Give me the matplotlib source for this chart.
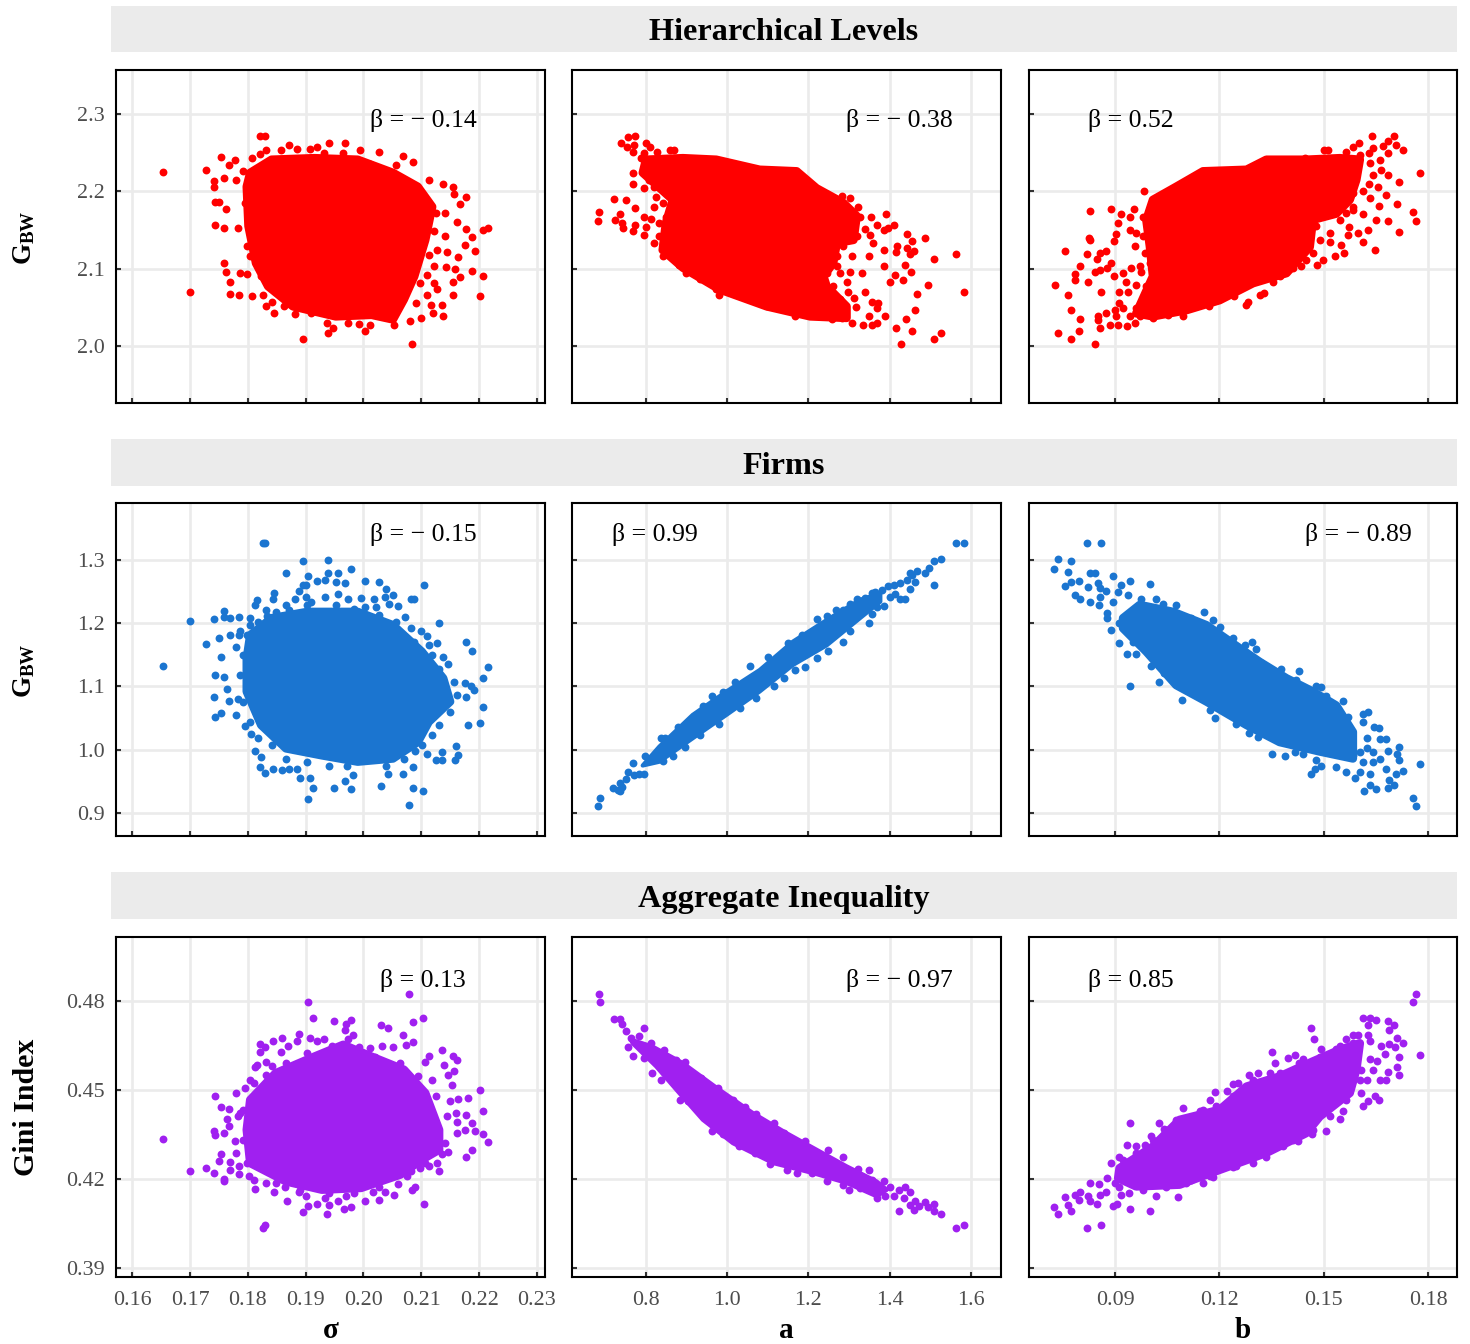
"""Grid of scatter panels: hierarchical levels, firms, aggregate inequality vs sigma, a, b.

Values were read off the picture by eye. The solid middle of each cloud is too dense
to read point by point, so it is kept as an outline (*_core) and the visible
points around it as a list (*_pts).
"""
import matplotlib
matplotlib.use('Agg')
import matplotlib.pyplot as plt

plt.rcParams['font.family'] = ['Liberation Serif', 'DejaVu Serif']
plt.rcParams['mathtext.fontset'] = 'custom'
plt.rcParams['mathtext.bf'] = 'Liberation Serif:bold'
plt.rcParams['mathtext.rm'] = 'Liberation Serif'

W, H = 1470, 1344

row_titles = ['Hierarchical Levels', 'Firms', 'Aggregate Inequality']
row_ylabels = [r'$\mathbf{G_{BW}}$', r'$\mathbf{G_{BW}}$', 'Gini Index']
col_xlabels = ['σ', 'a', 'b']
row_colors = ['#FF0000', '#1B75D0', '#A020F0']

sigma_ticks = [0.16, 0.17, 0.18, 0.19, 0.20, 0.21, 0.22, 0.23]
a_ticks = [0.8, 1.0, 1.2, 1.4, 1.6]
b_ticks = [0.09, 0.12, 0.15, 0.18]
levels_ticks = [2.0, 2.1, 2.2, 2.3]
firms_ticks = [0.9, 1.0, 1.1, 1.2, 1.3]
gini_ticks = [0.39, 0.42, 0.45, 0.48]

betas = [['β = − 0.14', 'β = − 0.38', 'β = 0.52'],
         ['β = − 0.15', 'β = 0.99', 'β = − 0.89'],
         ['β = 0.13', 'β = − 0.97', 'β = 0.85']]

# Hierarchical levels
levels_sigma_core = [(.1804, 2.224), (.1841, 2.241), (.1915, 2.243), (.199, 2.241), (.2051, 2.224), (.2094, 2.206),
                     (.2119, 2.18), (.2107, 2.137), (.2088, 2.09), (.207, 2.06), (.2051, 2.034), (.2014, 2.04),
                     (.1952, 2.038), (.1878, 2.051), (.1835, 2.077), (.1814, 2.107), (.1801, 2.155), (.1798, 2.206)]
levels_sigma_pts = [(.1654, 2.225), (.17, 2.07), (.1727, 2.228), (.1754, 2.244), (.1742, 2.213), (.1741, 2.206),
                    (.1759, 2.217), (.1767, 2.234), (.1778, 2.24), (.1744, 2.186), (.1751, 2.186), (.1762, 2.177),
                    (.1743, 2.156), (.1759, 2.153), (.1783, 2.152), (.1759, 2.107), (.1762, 2.096), (.177, 2.082),
                    (.1769, 2.067), (.1785, 2.066), (.1786, 2.094), (.1798, 2.093), (.1807, 2.064), (.1831, 2.051),
                    (.1846, 2.042), (.1881, 2.041), (.1896, 2.009), (.1938, 2.016), (.1937, 2.029), (.1948, 2.023),
                    (.1974, 2.029), (.1993, 2.028), (.2003, 2.019), (.2011, 2.027), (.2052, 2.027), (.2081, 2.032),
                    (.2084, 2.003), (.2099, 2.036), (.212, 2.043), (.2138, 2.038), (.2135, 2.053), (.2155, 2.066),
                    (.2202, 2.065), (.2206, 2.09), (.2187, 2.097), (.2167, 2.089), (.2155, 2.083), (.2143, 2.102),
                    (.2159, 2.1), (.2163, 2.115), (.2193, 2.123), (.2175, 2.13), (.2187, 2.141), (.2178, 2.151),
                    (.2207, 2.15), (.2215, 2.153), (.2161, 2.16), (.2178, 2.192), (.2167, 2.183), (.2156, 2.196),
                    (.2155, 2.206), (.2137, 2.209), (.2113, 2.215), (.2085, 2.238), (.2068, 2.246), (.2056, 2.234),
                    (.2027, 2.251), (.2011, 2.235), (.1994, 2.253), (.1968, 2.263), (.1965, 2.249), (.1941, 2.262),
                    (.1931, 2.25), (.192, 2.257), (.1907, 2.255), (.1885, 2.255), (.1871, 2.26), (.1857, 2.254),
                    (.183, 2.271), (.1821, 2.271), (.1831, 2.254), (.1821, 2.248), (.1807, 2.243), (.2125, 2.172),
                    (.2141, 2.172), (.2122, 2.148), (.2141, 2.142), (.2128, 2.124), (.2144, 2.122), (.2113, 2.118),
                    (.2122, 2.103), (.211, 2.092), (.2122, 2.081), (.2128, 2.073), (.211, 2.066), (.2116, 2.053),
                    (.2091, 2.055), (.2098, 2.081), (.1798, 2.129), (.1804, 2.116), (.1823, 2.09), (.1826, 2.066),
                    (.1841, 2.057), (.1863, 2.051), (.1909, 2.042), (.1795, 2.185), (.178, 2.215), (.1792, 2.226)]

levels_a_core = [(.8, 2.241), (.891, 2.243), (.973, 2.241), (1.08, 2.228), (1.171, 2.226), (1.22, 2.204),
                 (1.286, 2.185), (1.319, 2.168), (1.311, 2.137), (1.27, 2.133), (1.261, 2.107), (1.237, 2.09),
                 (1.245, 2.077), (1.294, 2.051), (1.294, 2.036), (1.204, 2.038), (1.097, 2.051), (.981, 2.073),
                 (.891, 2.101), (.841, 2.124), (.849, 2.159), (.866, 2.189), (.792, 2.224)]
levels_a_pts = [(.685, 2.173), (.683, 2.162), (.722, 2.19), (.751, 2.189), (.773, 2.178), (.735, 2.17), (.724, 2.163),
                (.741, 2.159), (.743, 2.152), (.774, 2.157), (.769, 2.148), (.794, 2.167), (.801, 2.154), (.794, 2.143),
                (.812, 2.164), (.769, 2.224), (.768, 2.209), (.794, 2.204), (.738, 2.262), (.756, 2.27), (.774, 2.271),
                (.753, 2.257), (.771, 2.26), (.769, 2.251), (.801, 2.262), (.81, 2.257), (.826, 2.251), (.86, 2.254),
                (.868, 2.254), (.788, 2.243), (.796, 2.25), (.819, 2.18), (.825, 2.193), (.833, 2.159), (.821, 2.133),
                (.841, 2.116), (.882, 2.105), (.981, 2.066), (.952, 2.082), (1.167, 2.038), (1.282, 2.194),
                (1.303, 2.191), (1.323, 2.18), (1.354, 2.167), (1.368, 2.156), (1.391, 2.171), (1.41, 2.157),
                (1.397, 2.152), (1.385, 2.15), (1.442, 2.145), (1.454, 2.136), (1.486, 2.139), (1.418, 2.129),
                (1.416, 2.122), (1.442, 2.126), (1.459, 2.123), (1.449, 2.119), (1.387, 2.124), (1.508, 2.112),
                (1.564, 2.119), (1.386, 2.103), (1.437, 2.104), (1.414, 2.092), (1.453, 2.096), (1.433, 2.085),
                (1.4, 2.083), (1.495, 2.079), (1.468, 2.067), (1.582, 2.07), (1.462, 2.047), (1.439, 2.035),
                (1.415, 2.023), (1.456, 2.019), (1.427, 2.003), (1.509, 2.009), (1.527, 2.016), (1.338, 2.07),
                (1.311, 2.062), (1.316, 2.05), (1.356, 2.057), (1.372, 2.056), (1.368, 2.049), (1.389, 2.039),
                (1.35, 2.039), (1.334, 2.027), (1.356, 2.027), (1.368, 2.029), (1.307, 2.029), (1.282, 2.036),
                (1.257, 2.035), (1.348, 2.116), (1.331, 2.094), (1.307, 2.116), (1.302, 2.096), (1.294, 2.083),
                (1.27, 2.103), (1.298, 2.07), (1.36, 2.133), (1.352, 2.144), (1.34, 2.151),
                (.833, 2.206), (.841, 2.185), (.858, 2.198), (.849, 2.167), (.833, 2.142), (.849, 2.133),
                (.866, 2.146), (.874, 2.12), (.858, 2.118), (.821, 2.206), (.833, 2.219), (.808, 2.215),
                (.899, 2.094), (.932, 2.086), (.973, 2.073), (1.031, 2.064), (1.097, 2.051), (1.146, 2.047),
                (1.245, 2.094), (1.278, 2.094), (1.27, 2.116), (1.286, 2.129), (1.319, 2.142), (1.311, 2.155),
                (1.327, 2.167), (1.261, 2.077), (1.278, 2.06), (1.228, 2.073)]

levels_b_core = [(.1009, 2.189), (.1076, 2.206), (.1153, 2.226), (.1278, 2.228), (.1335, 2.241), (.145, 2.241),
                 (.1546, 2.243), (.1604, 2.241), (.1594, 2.215), (.1575, 2.189), (.1536, 2.171), (.1469, 2.163),
                 (.146, 2.128), (.1393, 2.094), (.1297, 2.081), (.1201, 2.059), (.1105, 2.046), (.1009, 2.038),
                 (.0961, 2.042), (.1009, 2.09), (.1, 2.129), (.099, 2.163)]
levels_b_pts = [(.0727, 2.079), (.0765, 2.066), (.0773, 2.047), (.0735, 2.016), (.0773, 2.009), (.0796, 2.019),
                (.0842, 2.003), (.08, 2.035), (.085, 2.038), (.0852, 2.033), (.0856, 2.023), (.0873, 2.042),
                (.0757, 2.123), (.0785, 2.093), (.0784, 2.085), (.0801, 2.103), (.0823, 2.083), (.0859, 2.07),
                (.0821, 2.119), (.0848, 2.112), (.0856, 2.12), (.0874, 2.123), (.0842, 2.095), (.0856, 2.098),
                (.0877, 2.101), (.0896, 2.091), (.0889, 2.107), (.0827, 2.137), (.0825, 2.14), (.0829, 2.175),
                (.0889, 2.177), (.0917, 2.171), (.091, 2.159), (.0896, 2.136), (.0904, 2.145), (.0955, 2.177),
                (.0942, 2.167), (.0984, 2.2), (.0913, 2.07), (.0937, 2.07), (.0913, 2.055), (.0899, 2.047),
                (.0904, 2.038), (.0885, 2.027), (.0909, 2.027), (.0935, 2.026), (.0957, 2.029), (.0923, 2.094),
                (.0933, 2.083), (.0947, 2.101), (.0976, 2.096), (.0961, 2.079), (.1009, 2.036), (.1052, 2.04),
                (.1096, 2.038), (.1169, 2.052), (.1241, 2.064), (.1278, 2.053), (.1283, 2.057), (.1318, 2.066),
                (.1327, 2.068), (.1354, 2.083), (.1436, 2.103), (.1481, 2.104), (.1498, 2.111), (.1532, 2.116),
                (.1558, 2.12), (.1551, 2.131), (.1517, 2.146), (.157, 2.143), (.1613, 2.134), (.1646, 2.124),
                (.1717, 2.147), (.1765, 2.162), (.1757, 2.173), (.1711, 2.183), (.1686, 2.162), (.1651, 2.163),
                (.1627, 2.15), (.1599, 2.146), (.1573, 2.154), (.1613, 2.17), (.1584, 2.176), (.1658, 2.181),
                (.1679, 2.195), (.1632, 2.191), (.1613, 2.2), (.1655, 2.205), (.1716, 2.212), (.1776, 2.224),
                (.1685, 2.221), (.1629, 2.209), (.1664, 2.228), (.1642, 2.221), (.1639, 2.271), (.1703, 2.271),
                (.1686, 2.265), (.1671, 2.259), (.1708, 2.26), (.1728, 2.254), (.1685, 2.25), (.1642, 2.256),
                (.1601, 2.262), (.1584, 2.257), (.1563, 2.251), (.163, 2.25), (.1661, 2.241), (.1604, 2.247),
                (.1632, 2.237), (.15, 2.254), (.1513, 2.254), (.1447, 2.243),
                (.0981, 2.167), (.0981, 2.142), (.0961, 2.146), (.0942, 2.15), (.0957, 2.129), (.0985, 2.12),
                (.1, 2.107), (.0971, 2.103), (.1014, 2.09), (.099, 2.077), (.1004, 2.068), (.0981, 2.06),
                (.0961, 2.049), (.0942, 2.038), (.0923, 2.049), (.0971, 2.038), (.1028, 2.042), (.1479, 2.155),
                (.1489, 2.137), (.1517, 2.135), (.1469, 2.12), (.145, 2.111), (.1412, 2.101), (.1373, 2.09),
                (.1546, 2.189), (.1584, 2.198), (.1584, 2.18), (.1565, 2.172), (.1546, 2.163), (.1594, 2.228)]

# Firms
firms_sigma_core = [(.1804, 1.181), (.1841, 1.208), (.1903, 1.218), (.199, 1.218), (.2051, 1.197), (.2101, 1.155),
                    (.2138, 1.113), (.215, 1.076), (.2113, 1.044), (.2094, 1.012), (.2051, .986), (.199, .981),
                    (.1928, .991), (.1866, 1.002), (.1823, 1.039), (.1798, 1.092), (.1798, 1.144)]
firms_sigma_pts = [(.1654, 1.132), (.17, 1.204), (.1727, 1.167), (.1741, 1.206), (.175, 1.176), (.1759, 1.219),
                   (.1758, 1.21), (.1769, 1.209), (.1784, 1.21), (.1769, 1.181), (.1784, 1.182), (.1786, 1.188),
                   (.1779, 1.163), (.1754, 1.147), (.1743, 1.118), (.1759, 1.115), (.1764, 1.096), (.1741, 1.084),
                   (.1767, 1.077), (.1783, 1.08), (.1743, 1.052), (.1754, 1.058), (.1779, 1.055), (.1795, 1.037),
                   (.1806, 1.025), (.1812, .998), (.1822, .989), (.1821, .972), (.183, .963), (.1844, .969),
                   (.1859, .968), (.1872, .969), (.1885, .969), (.189, .955), (.1908, .956), (.1913, .94),
                   (.1904, .922), (.1949, .94), (.1968, .951), (.1978, .938), (.1982, .96), (.2031, .943),
                   (.2042, .961), (.2068, .962), (.2086, .939), (.2103, .934), (.2078, .912), (.2085, .973),
                   (.2089, .998), (.2125, .983), (.2136, .983), (.2158, .983), (.2164, .991), (.216, 1.006),
                   (.2135, .997), (.211, .994), (.2202, 1.042), (.218, 1.039), (.2206, 1.068), (.2177, 1.083),
                   (.2192, 1.095), (.2186, 1.101), (.2175, 1.105), (.2207, 1.114), (.2215, 1.131), (.2187, 1.156),
                   (.2178, 1.171), (.2131, 1.2), (.2147, 1.136), (.2138, 1.147), (.2128, 1.168), (.2113, 1.166),
                   (.2099, 1.188), (.211, 1.179), (.2104, 1.261), (.2087, 1.239), (.2082, 1.238), (.2071, 1.21),
                   (.206, 1.227), (.2051, 1.245), (.2039, 1.254), (.2027, 1.265), (.2037, 1.242), (.2045, 1.23),
                   (.2002, 1.266), (.2018, 1.239), (.1996, 1.24), (.2021, 1.226), (.2002, 1.226), (.1978, 1.286),
                   (.1956, 1.279), (.1938, 1.3), (.1939, 1.28), (.1933, 1.268), (.1952, 1.265), (.1968, 1.263),
                   (.1956, 1.246), (.1974, 1.238), (.1896, 1.299), (.1904, 1.275), (.1866, 1.28), (.1826, 1.327),
                   (.183, 1.326), (.192, 1.267), (.1896, 1.261), (.19, 1.26), (.1846, 1.248), (.1843, 1.239),
                   (.1889, 1.251), (.1881, 1.239), (.19, 1.242), (.1909, 1.233), (.1934, 1.242), (.1866, 1.229),
                   (.1816, 1.237), (.1812, 1.228), (.1831, 1.221), (.1834, 1.212), (.1804, 1.209),
                   (.1817, 1.202), (.1848, 1.218), (.1872, 1.221), (.1903, 1.229), (.1952, 1.229), (.1983, 1.223),
                   (.2027, 1.213), (.2057, 1.202), (.2082, 1.192), (.2088, 1.171), (.2119, 1.15), (.2131, 1.128),
                   (.2156, 1.107), (.2162, 1.086), (.215, 1.06), (.2131, 1.039), (.2119, 1.023), (.2101, 1.007),
                   (.207, .986), (.2039, .975), (.2008, .986), (.1971, .975), (.194, .975), (.1903, .981),
                   (.1866, .986), (.1841, 1.007), (.1817, 1.018), (.1804, 1.044), (.1792, 1.076), (.1786, 1.118),
                   (.1792, 1.15), (.1798, 1.181), (.1804, 1.197)]

firms_a_core = [(.792, .975), (.833, 1.005), (.915, 1.055), (.998, 1.092), (1.08, 1.126), (1.162, 1.171),
                (1.245, 1.205), (1.327, 1.237), (1.377, 1.247), (1.377, 1.234), (1.327, 1.208), (1.245, 1.165),
                (1.162, 1.134), (1.08, 1.092), (.998, 1.055), (.915, 1.018), (.833, .981)]
firms_a_pts = [(.683, .911), (.686, .923), (.72, .94), (.73, .937), (.736, .934), (.742, .941), (.737, .947),
               (.751, .954), (.756, .965), (.769, .979), (.771, .96), (.784, .962), (.796, .961), (.798, .99),
               (.837, 1.018), (.848, 1.018), (.843, .982), (.866, .99), (.878, 1.036), (.94, 1.069), (.963, 1.085),
               (.989, 1.092), (1.018, 1.107), (1.055, 1.132), (1.101, 1.147), (1.15, 1.168), (1.183, 1.182),
               (1.22, 1.207), (1.245, 1.212), (1.268, 1.221), (1.286, 1.221), (1.302, 1.23), (1.319, 1.238),
               (1.34, 1.24), (1.356, 1.247), (1.364, 1.25), (1.38, 1.253), (1.397, 1.259), (1.41, 1.261),
               (1.426, 1.263), (1.442, 1.268), (1.451, 1.28), (1.467, 1.282), (1.455, 1.276), (1.463, 1.265),
               (1.449, 1.254), (1.488, 1.279), (1.496, 1.287), (1.508, 1.299), (1.527, 1.301), (1.509, 1.261),
               (1.564, 1.327), (1.582, 1.326), (1.438, 1.239), (1.426, 1.239), (1.414, 1.246), (1.401, 1.242),
               (1.385, 1.227), (1.368, 1.225), (1.356, 1.214), (1.348, 1.2), (1.302, 1.187), (1.286, 1.171),
               (1.247, 1.156), (1.191, 1.131), (1.22, 1.145), (1.167, 1.126), (1.139, 1.114), (1.115, 1.1),
               (1.072, 1.081), (1.031, 1.066), (.981, 1.041), (.932, 1.024), (.895, 1.004)]

firms_b_core = [(.0923, 1.208), (.0971, 1.229), (.1067, 1.218), (.1163, 1.197), (.1239, 1.168), (.1316, 1.139),
                (.1393, 1.113), (.1469, 1.092), (.1536, 1.07), (.1584, 1.028), (.1584, .986), (.1489, .997),
                (.1373, 1.012), (.1278, 1.039), (.1163, 1.076), (.1076, 1.102), (.099, 1.155), (.0923, 1.192)]
firms_b_pts = [(.0726, 1.286), (.0735, 1.301), (.0773, 1.299), (.0765, 1.281), (.082, 1.327), (.0859, 1.326),
               (.0757, 1.259), (.0774, 1.265), (.0798, 1.266), (.0823, 1.258), (.0829, 1.279), (.0842, 1.28),
               (.0784, 1.245), (.0801, 1.239), (.0827, 1.234), (.0851, 1.263), (.0856, 1.255), (.0873, 1.251),
               (.0856, 1.242), (.0853, 1.228), (.0895, 1.275), (.0918, 1.261), (.0943, 1.266), (.1002, 1.262),
               (.0909, 1.25), (.0937, 1.245), (.0894, 1.234), (.0877, 1.216), (.0877, 1.209), (.0889, 1.19),
               (.0911, 1.169), (.0935, 1.152), (.0961, 1.152), (.0943, 1.1), (.1028, 1.107), (.1004, 1.132),
               (.0976, 1.239), (.1019, 1.239), (.1038, 1.231), (.1076, 1.228), (.1118, 1.209), (.1155, 1.217),
               (.1182, 1.205), (.1201, 1.194), (.1239, 1.176), (.1295, 1.171), (.1306, 1.159), (.1273, 1.165),
               (.1316, 1.139), (.1378, 1.128), (.1428, 1.125), (.1421, 1.11), (.1479, 1.101), (.1493, 1.099),
               (.1506, 1.085), (.1556, 1.077), (.157, 1.052), (.1613, 1.057), (.1627, 1.06), (.1613, 1.044),
               (.1645, 1.036), (.1659, 1.035), (.1623, 1.019), (.1661, 1.017), (.168, 1.017), (.1717, 1.005),
               (.1685, .998), (.1711, .994), (.1717, .983), (.1776, .978), (.1728, .967), (.1709, .962), (.168, .97),
               (.1688, .952), (.1702, .945), (.1685, .94), (.1651, .938), (.1632, .944), (.1615, .935), (.1757, .923),
               (.1765, .911), (.1661, .986), (.1642, .981), (.1632, .962), (.1589, .955), (.1604, .965), (.1563, .964),
               (.1536, .972), (.1493, .975), (.1474, .97), (.1462, .961), (.1479, .983), (.1441, .994), (.1417, .997),
               (.139, .99), (.1352, .994), (.1311, 1.02), (.1284, 1.026), (.1249, 1.04), (.1188, 1.05), (.1172, 1.063),
               (.1094, 1.078), (.104, 1.121), (.0952, 1.171), (.0913, 1.2), (.1604, .997), (.1623, 1.002),
               (.1642, .997), (.1584, .991), (.1613, .981)]

# Aggregate inequality
gini_sigma_core = [(.1798, .4366), (.1804, .4467), (.1848, .4557), (.1915, .4613), (.1965, .4653), (.2014, .4613),
                   (.207, .4569), (.2107, .449), (.2131, .4366), (.2131, .4299), (.2101, .4265), (.2064, .4215),
                   (.1996, .417), (.1928, .4164), (.1866, .4192), (.1804, .4254)]
gini_sigma_pts = [(.1654, .4334), (.17, .4228), (.1727, .4236), (.1741, .422), (.1759, .42), (.1759, .4193),
                  (.175, .4262), (.1754, .4285), (.1769, .4258), (.1769, .4229), (.1784, .4217), (.1784, .4243),
                  (.1779, .4289), (.1741, .4361), (.1744, .4349), (.1758, .4355), (.1767, .4378), (.1764, .4404),
                  (.1754, .4442), (.1767, .4436), (.1743, .4479), (.1779, .4489), (.1795, .4508), (.1783, .4411),
                  (.1786, .4422), (.1777, .4327), (.1826, .4035), (.183, .4044), (.1904, .4796), (.2078, .4824),
                  (.1913, .4742), (.1949, .4733), (.1978, .4735), (.197, .4722), (.1968, .4703), (.1982, .4685),
                  (.2031, .472), (.2042, .4709), (.2086, .473), (.2103, .4742), (.2068, .4685), (.2085, .4661),
                  (.2073, .4651), (.2051, .4645), (.2032, .4647), (.2012, .4642), (.1992, .4645), (.1974, .4672),
                  (.1889, .4689), (.1885, .4667), (.1859, .4676), (.1843, .4665), (.1821, .4655), (.183, .4645),
                  (.1821, .4627), (.1857, .463), (.187, .4647), (.1908, .4674), (.1931, .4672), (.192, .4664),
                  (.1931, .4622), (.1832, .4593), (.1816, .4585), (.1812, .4578), (.1832, .4552), (.1804, .4535),
                  (.2136, .4635), (.2113, .4616), (.2107, .4593), (.2155, .4615), (.2162, .46), (.214, .4585),
                  (.2157, .4563), (.2147, .4552), (.2119, .4535), (.2153, .4518), (.2202, .4499), (.218, .4474),
                  (.2164, .4471), (.2149, .4462), (.2206, .4428), (.2177, .4416), (.216, .4422), (.2187, .4388),
                  (.2193, .4362), (.2207, .4351), (.2215, .4326), (.2175, .4366), (.2161, .4357), (.2162, .4394),
                  (.2187, .4297), (.2178, .4274), (.2147, .4293), (.2135, .4285), (.2128, .4254), (.2131, .4228),
                  (.2113, .4243), (.2098, .4238), (.2082, .4226), (.2089, .4173), (.2084, .4162), (.2104, .4115),
                  (.206, .4184), (.2052, .4147), (.2037, .4158), (.2027, .4128), (.2016, .4158), (.2003, .4126),
                  (.1978, .4106), (.197, .4142), (.1956, .4125), (.1967, .4099), (.1937, .4084), (.194, .4112),
                  (.1934, .4136), (.192, .4117), (.1904, .411), (.1896, .409), (.19, .4142), (.1867, .4127),
                  (.1888, .4158), (.1864, .4175), (.1845, .4158), (.1812, .4166), (.1832, .4187), (.1802, .4209),
                  (.1811, .4524), (.1841, .458), (.1866, .4591), (.1903, .4625), (.1946, .4647), (.1989, .4636),
                  (.202, .4613), (.2064, .4591), (.2094, .4546), (.2125, .4479), (.2144, .4411), (.2141, .4321),
                  (.2107, .4254), (.2076, .4209), (.2027, .4175), (.1983, .4153), (.194, .4153), (.1891, .4164),
                  (.1848, .4187), (.1811, .4198), (.1798, .4254), (.1792, .4333), (.1792, .4434)]

gini_a_core = [(.763, .467), (.816, .4647), (.891, .4591), (.981, .4501), (1.064, .4422), (1.146, .4355),
               (1.22, .4299), (1.294, .4243), (1.368, .4192), (1.393, .4164), (1.368, .4142), (1.294, .4187),
               (1.212, .422), (1.113, .4254), (1.014, .4321), (.94, .44), (.882, .449), (.825, .458), (.767, .4658)]
gini_a_pts = [(.684, .4824), (.686, .4796), (.722, .474), (.736, .474), (.742, .4722), (.751, .4698), (.794, .4709),
              (.769, .4616), (.756, .4645), (.763, .4675), (.784, .4683), (.796, .4608), (.816, .4557), (.837, .4535),
              (.845, .4636), (.812, .4658), (.874, .4602), (.895, .4593), (.884, .4467), (.903, .4462), (.948, .4406),
              (.963, .4362), (.989, .4353), (1.029, .4312), (1.068, .4288), (1.106, .4252), (1.148, .4231),
              (1.171, .4222), (1.208, .422), (1.245, .4192), (1.286, .4273), (1.247, .4297), (1.191, .4327),
              (1.139, .4355), (1.115, .4388), (1.072, .442), (1.043, .4443), (1.014, .4467), (.977, .4506),
              (.936, .454), (1.286, .4181), (1.301, .4162), (1.323, .4234), (1.348, .4229), (1.327, .417),
              (1.356, .4198), (1.368, .4136), (1.389, .4142), (1.385, .4192), (1.401, .4175), (1.422, .4162),
              (1.438, .4173), (1.449, .4158), (1.41, .4142), (1.434, .4136), (1.451, .4113), (1.463, .4125),
              (1.459, .4097), (1.471, .411), (1.424, .4091), (1.487, .4122), (1.508, .4116), (1.495, .4106),
              (1.508, .4091), (1.527, .4083), (1.564, .4035), (1.582, .4044)]

gini_b_core = [(.0913, .4237), (.1009, .431), (.1086, .44), (.1201, .4434), (.1278, .4512), (.1373, .4546),
               (.1469, .4597), (.1546, .4636), (.1604, .4658), (.1594, .4569), (.1575, .449), (.1489, .4411),
               (.145, .4355), (.1335, .4288), (.1201, .4231), (.1086, .4181), (.0961, .4175), (.0909, .4203)]
gini_b_pts = [(.0726, .4107), (.0735, .4083), (.0773, .4091), (.0757, .4139), (.0765, .4112), (.0784, .4145),
              (.08, .4158), (.0798, .4128), (.0822, .4142), (.0829, .4125), (.0848, .4116), (.0856, .4147),
              (.0873, .4158), (.0827, .4187), (.0853, .4184), (.082, .4035), (.0859, .4044), (.0894, .411),
              (.0906, .4117), (.0943, .4099), (.1002, .4091), (.1019, .4142), (.108, .4138), (.094, .4153),
              (.0918, .4147), (.0889, .4253), (.0911, .4276), (.0935, .4316), (.0943, .4388), (.0961, .431),
              (.0985, .4316), (.1004, .4344), (.1028, .4388), (.104, .437), (.1096, .4439), (.0877, .4203),
              (.0899, .4187), (.0981, .4162), (.1048, .4175), (.1153, .4187), (.1119, .4198), (.1182, .4207),
              (.1239, .424), (.1297, .4254), (.1383, .4312), (.1426, .4329), (.1465, .4353), (.1506, .4361),
              (.1548, .4402), (.1556, .443), (.1613, .4445), (.1627, .4462), (.1647, .4481), (.1659, .4467),
              (.1608, .449), (.1623, .4533), (.1605, .4535), (.1661, .4533), (.168, .4535), (.1685, .456),
              (.1717, .4551), (.1711, .4578), (.1654, .4597), (.1642, .4569), (.1632, .4606), (.1716, .4611),
              (.1776, .4617), (.1728, .4658), (.1711, .4674), (.1688, .4656), (.1704, .4645), (.1675, .4622),
              (.1666, .4647), (.1627, .4687), (.1632, .4664), (.1599, .4687), (.1584, .4687), (.1563, .4673),
              (.1687, .4702), (.1702, .4721), (.1686, .4734), (.1651, .4735), (.1632, .4742), (.1613, .4742),
              (.1627, .472), (.1757, .4796), (.1765, .4824), (.1462, .4709), (.1472, .4672), (.1493, .4638),
              (.1536, .4638), (.1441, .4604), (.1417, .4617), (.1397, .4608), (.1352, .4627), (.1359, .4591),
              (.1347, .4557), (.1311, .4557), (.1285, .4552), (.1254, .4524), (.1239, .4521), (.1222, .4496),
              (.1188, .4492), (.1172, .4467), (.1153, .4434), (.1589, .4591), (.1608, .4569),
              (.0923, .4265), (.0961, .4288), (.1009, .4333), (.1048, .4366), (.1076, .44), (.1143, .4428),
              (.1191, .4445), (.1239, .4479), (.1297, .4535), (.1373, .4557), (.143, .4591), (.1489, .4613),
              (.1546, .4647), (.1584, .4658), (.1594, .4613), (.1584, .4535), (.1565, .4467), (.1517, .4411),
              (.1469, .4366), (.1412, .4333), (.1335, .4276), (.1249, .4243), (.1172, .4209), (.1105, .4187),
              (.1028, .4187), (.0961, .4187), (.0913, .4175)]

clouds = [[(levels_sigma_core, levels_sigma_pts), (levels_a_core, levels_a_pts), (levels_b_core, levels_b_pts)],
          [(firms_sigma_core, firms_sigma_pts), (firms_a_core, firms_a_pts), (firms_b_core, firms_b_pts)],
          [(gini_sigma_core, gini_sigma_pts), (gini_a_core, gini_a_pts), (gini_b_core, gini_b_pts)]]

# layout in pixels of the target
col_px = [(116, 545), (572, 1001), (1029, 1457)]
row_px = [(70, 403), (503, 836), (937, 1277)]
strip_px = [(6, 52), (439, 486), (872, 919)]
xlims = [(0.1572, 0.2314), (0.618, 1.674), (0.0653, 0.1883)]
ylims = [(1.926, 2.357), (0.8636, 1.390), (0.387, 0.5016)]
xticks = [sigma_ticks, a_ticks, b_ticks]
yticks = [levels_ticks, firms_ticks, gini_ticks]
xfmt = ['%.2f', '%.1f', '%.2f']
yfmt = ['%.1f', '%.1f', '%.2f']
beta_x = [[423, 899, 1131], [423, 655, 1358], [423, 899, 1131]]
beta_y = [120, 535, 981]
# outline width of the dense part, thinner where the cloud is a narrow band
core_lw = [[6, 6, 6], [6, 3, 6], [6, 3, 6]]

fig = plt.figure(figsize=(W / 100, H / 100), dpi=100)


def px_x(x):
    return x / W


def px_y(y):
    return 1 - y / H


for r in range(3):
    top, bottom = strip_px[r]
    strip = fig.add_axes([px_x(111), px_y(bottom), px_x(1457 - 111), (bottom - top) / H])
    strip.set_facecolor('#EBEBEB')
    strip.set_xticks([])
    strip.set_yticks([])
    for s in strip.spines.values():
        s.set_visible(False)
    fig.text(px_x(784), px_y((top + bottom) / 2 + 4), row_titles[r], ha='center', va='center',
             fontsize=23.2, fontweight='bold', color='black')

    if r < 2:
        fig.text(px_x(24), px_y(sum(row_px[r]) / 2 + 1), row_ylabels[r], rotation=90,
                 ha='center', va='center', fontsize=19.5, color='black')
    else:
        fig.text(px_x(27), px_y(sum(row_px[r]) / 2), row_ylabels[r], rotation=90,
                 ha='center', va='center', fontsize=21.5, fontweight='bold', color='black')

    for c in range(3):
        left, right = col_px[c]
        top_ax, bottom_ax = row_px[r]
        ax = fig.add_axes([px_x(left), px_y(bottom_ax), (right - left) / W, (bottom_ax - top_ax) / H])
        core, pts = clouds[r][c]
        ax.set_axisbelow(True)
        ax.grid(True, color='#EBEBEB', lw=1.9)
        ax.fill(*zip(*core), facecolor=row_colors[r], edgecolor=row_colors[r], lw=core_lw[r][c],
                joinstyle='round', zorder=3)
        ax.scatter(*zip(*pts), s=32, color=row_colors[r], linewidths=0, zorder=3)
        ax.set_xlim(xlims[c])
        ax.set_ylim(ylims[r])
        ax.set_xticks(xticks[c])
        ax.set_yticks(yticks[r])
        ax.set_xticklabels([xfmt[c] % v for v in xticks[c]] if r == 2 else [])
        ax.set_yticklabels([yfmt[r] % v for v in yticks[r]] if c == 0 else [])
        ax.tick_params(direction='in', length=3.5, width=1.5, color='#333333', labelcolor='#4D4D4D',
                       labelsize=15.8, pad=8)
        ax.tick_params(axis='x', pad=10)
        for s in ax.spines.values():
            s.set_linewidth(1.5)
            s.set_color('black')
        fig.text(px_x(beta_x[r][c]), px_y(beta_y[r]), betas[r][c], ha='center', va='center',
                 fontsize=18.5, color='black', zorder=5)

for c in range(3):
    fig.text(px_x(sum(col_px[c]) / 2), px_y(1331), col_xlabels[c], ha='center', va='center',
             fontsize=21, fontweight='bold', color='black')

fig.savefig('out.png', dpi=100)
